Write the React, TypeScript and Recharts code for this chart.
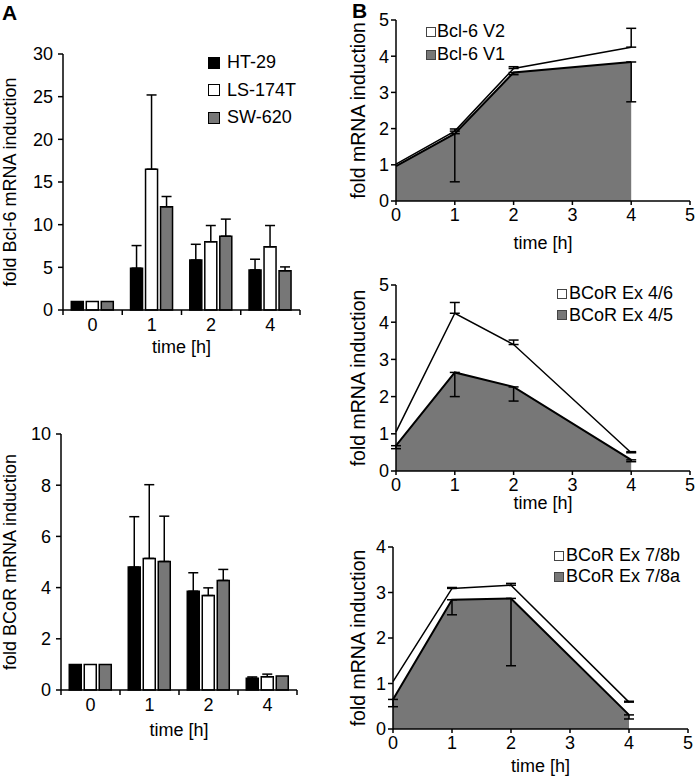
import React from 'react';
import { BarChart, Bar, XAxis, YAxis, ErrorBar, Legend, ComposedChart, Area, Line, Label } from 'recharts';

const FONT = '"Liberation Sans", Arial, Helvetica, sans-serif';
const GRAY = '#777777';

// ---------- Panel A data ----------
const timeCategories = ['0', '1', '2', '4'];
const cellLines = ['HT-29', 'LS-174T', 'SW-620'];
const cellColors = ['#000000', '#ffffff', GRAY];

const bcl6HT29 = [1, 4.9, 5.85, 4.7];
const bcl6LS174T = [1, 16.5, 8.0, 7.4];
const bcl6SW620 = [1, 12.1, 8.65, 4.6];
const bcl6HT29Err = [null, 2.65, 1.85, 1.25];
const bcl6LS174TErr = [null, 8.7, 1.9, 2.5];
const bcl6SW620Err = [null, 1.2, 2.0, 0.45];
const bcl6Ticks = [0, 5, 10, 15, 20, 25, 30];

const bcorHT29 = [1, 4.8, 3.86, 0.46];
const bcorLS174T = [1, 5.14, 3.69, 0.52];
const bcorSW620 = [1, 5.02, 4.28, 0.55];
const bcorHT29Err = [null, 1.97, 0.72, 0.05];
const bcorLS174TErr = [null, 2.88, 0.3, 0.1];
const bcorSW620Err = [null, 1.77, 0.43, null];
const bcorTicks = [0, 2, 4, 6, 8, 10];

// ---------- Panel B data ----------
const hours = [0, 1, 2, 4];
const hourTicks = [0, 1, 2, 3, 4, 5];

const bcl6V2 = [1.02, 1.93, 3.66, 4.25];
const bcl6V1 = [0.96, 1.86, 3.55, 3.84];
const bcl6V2ErrUp = [null, 0.06, 0.05, 0.52];
const bcl6V1ErrDown = [null, 1.33, 0.06, 1.1];
const bcl6Names = ['Bcl-6 V2', 'Bcl-6 V1'];

const ex46 = [1.05, 4.24, 3.4, 0.49];
const ex45 = [0.68, 2.65, 2.26, 0.3];
const ex46ErrUp = [null, 0.29, 0.12, 0.03];
const ex45ErrDown = [0.08, 0.65, 0.38, 0.05];
const ex4Names = ['BCoR Ex 4/6', 'BCoR Ex 4/5'];

const ex78b = [1.04, 3.09, 3.16, 0.59];
const ex78a = [0.65, 2.84, 2.87, 0.31];
const ex78bErrUp = [null, 0.02, 0.04, 0.02];
const ex78aErrDown = [0.16, 0.33, 1.48, 0.09];
const ex78Names = ['BCoR Ex 7/8b', 'BCoR Ex 7/8a'];

const up = (e: number | null) => (e == null ? null : [0, e]);
const down = (e: number | null) => (e == null ? null : [e, 0]);

const bcl6Rows = timeCategories.map((t, i) => ({
  t,
  a: bcl6HT29[i], b: bcl6LS174T[i], c: bcl6SW620[i],
  aErr: up(bcl6HT29Err[i]), bErr: up(bcl6LS174TErr[i]), cErr: up(bcl6SW620Err[i]),
}));
const bcorRows = timeCategories.map((t, i) => ({
  t,
  a: bcorHT29[i], b: bcorLS174T[i], c: bcorSW620[i],
  aErr: up(bcorHT29Err[i]), bErr: up(bcorLS174TErr[i]), cErr: up(bcorSW620Err[i]),
}));

const makeLineRows = (hi: number[], lo: number[], hiErr: (number | null)[], loErr: (number | null)[]) =>
  hours.map((t, i) => ({ t, hi: hi[i], lo: lo[i], hiErr: up(hiErr[i]), loErr: down(loErr[i]) }));

const bcl6VRows = makeLineRows(bcl6V2, bcl6V1, bcl6V2ErrUp, bcl6V1ErrDown);
const ex4Rows = makeLineRows(ex46, ex45, ex46ErrUp, ex45ErrDown);
const ex78Rows = makeLineRows(ex78b, ex78a, ex78bErrUp, ex78aErrDown);

const axisStroke = { stroke: '#000', strokeWidth: 1.5 };
const tickStyle = { fill: '#000', fontSize: 18, fontFamily: FONT };

const makeCatTick = (band: number) => (props: any) => {
  const { x, y, payload } = props;
  const y0 = y - 8;
  const last = payload.value === timeCategories[timeCategories.length - 1];
  return (
    <g>
      <line x1={x - band / 2} x2={x - band / 2} y1={y0} y2={y0 + 5} stroke="#000" strokeWidth={1.5} />
      {last && <line x1={x + band / 2} x2={x + band / 2} y1={y0} y2={y0 + 5} stroke="#000" strokeWidth={1.5} />}
      <text x={x} y={y} dy="0.71em" textAnchor="middle" fontSize={18} fontFamily={FONT} fill="#000">
        {payload.value}
      </text>
    </g>
  );
};

const BarLegend = () => (
  <div style={{ fontFamily: FONT, fontSize: 18, color: '#000' }}>
    {cellLines.map((name, i) => (
      <div key={name} style={{ display: 'flex', alignItems: 'center', height: 27.5 }}>
        <span
          style={{
            display: 'inline-block', width: 12, height: 12, boxSizing: 'border-box',
            border: '1.5px solid #000', background: cellColors[i], marginRight: 7,
          }}
        />
        <span>{name}</span>
      </div>
    ))}
  </div>
);

const makeAreaLegend = (names: string[], rowH: number, gap: number) => () => (
  <div style={{ fontFamily: FONT, fontSize: 18, color: '#000' }}>
    {names.map((name, i) => (
      <div key={name} style={{ display: 'flex', alignItems: 'center', height: rowH, whiteSpace: 'nowrap' }}>
        <span
          style={{
            display: 'inline-block', width: 10, height: 10, boxSizing: 'border-box',
            border: '1px solid #444', background: i === 0 ? '#fff' : GRAY, marginRight: gap,
          }}
        />
        <span>{name}</span>
      </div>
    ))}
  </div>
);

type BarPanelProps = {
  top: number; rows: any[]; ticks: number[]; ylabel: string; yW: number; right: number;
  axisH: number; height: number; labelOffset: number; legend?: boolean;
};

const BarPanel = ({ top, rows, ticks, ylabel, yW, right, axisH, height, labelOffset, legend }: BarPanelProps) => {
  const width = 320;
  const band = (width - yW - right) / timeCategories.length;
  return (
    <div style={{ position: 'absolute', left: 0, top }}>
      <BarChart width={width} height={height} data={rows} margin={{ top: 54, right, bottom: 0, left: 0 }}
        barCategoryGap="14%" barGap={3}>
        <XAxis dataKey="t" tickLine={false} axisLine={axisStroke} tickSize={5} tickMargin={3}
          height={axisH} tick={makeCatTick(band)} interval={0}>
          <Label value="time [h]" position="insideBottom" offset={labelOffset}
            style={{ fontSize: 18, fill: '#000', fontFamily: FONT }} />
        </XAxis>
        <YAxis width={yW} domain={[0, ticks[ticks.length - 1]]} ticks={ticks} interval={0}
          tick={tickStyle} tickLine={axisStroke} axisLine={axisStroke} tickSize={5} tickMargin={5}>
          <Label value={ylabel} angle={-90} position="insideLeft" offset={10}
            style={{ textAnchor: 'middle', fontSize: 18, fill: '#000', fontFamily: FONT }} />
        </YAxis>
        {legend && (
          <Legend layout="vertical" align="center" verticalAlign="middle" content={BarLegend}
            wrapperStyle={{ left: 208, top: 49, width: 'auto', height: 'auto' }} />
        )}
        <Bar dataKey="a" name={cellLines[0]} fill={cellColors[0]} stroke="#000" strokeWidth={1.5} isAnimationActive={false}>
          <ErrorBar dataKey="aErr" width={5} stroke="#000" strokeWidth={1.5} />
        </Bar>
        <Bar dataKey="b" name={cellLines[1]} fill={cellColors[1]} stroke="#000" strokeWidth={1.5} isAnimationActive={false}>
          <ErrorBar dataKey="bErr" width={5} stroke="#000" strokeWidth={1.5} />
        </Bar>
        <Bar dataKey="c" name={cellLines[2]} fill={cellColors[2]} stroke="#000" strokeWidth={1.5} isAnimationActive={false}>
          <ErrorBar dataKey="cErr" width={5} stroke="#000" strokeWidth={1.5} />
        </Bar>
      </BarChart>
    </div>
  );
};

type AreaPanelProps = {
  top: number; left: number; width: number; height: number; marginTop: number; yW: number; right: number;
  axisH: number; rows: any[]; yMax: number; names: string[]; legendLeft: number; legendTop: number;
  legendRowH: number; legendGap: number; labelOffset: number;
};

const AreaPanel = (p: AreaPanelProps) => {
  const yTicks = hourTicks.filter((v) => v <= p.yMax);
  return (
    <div style={{ position: 'absolute', left: p.left, top: p.top }}>
      <ComposedChart width={p.width} height={p.height} data={p.rows}
        margin={{ top: p.marginTop, right: p.right, bottom: 0, left: 0 }}>
        <XAxis dataKey="t" type="number" domain={[0, 5]} ticks={hourTicks} interval={0} height={p.axisH}
          tick={tickStyle} tickLine={axisStroke} axisLine={axisStroke} tickSize={4} tickMargin={3}>
          <Label value="time [h]" position="insideBottom" offset={p.labelOffset}
            style={{ fontSize: 18, fill: '#000', fontFamily: FONT }} />
        </XAxis>
        <YAxis width={p.yW} domain={[0, p.yMax]} ticks={yTicks} interval={0}
          tick={tickStyle} tickLine={axisStroke} axisLine={axisStroke} tickSize={5} tickMargin={2}>
          <Label value="fold mRNA induction" angle={-90} position="insideLeft" offset={16}
            style={{ textAnchor: 'middle', fontSize: 19.5, fill: '#000', fontFamily: FONT }} />
        </YAxis>
        <Legend layout="vertical" align="center" verticalAlign="middle"
          content={makeAreaLegend(p.names, p.legendRowH, p.legendGap)}
          wrapperStyle={{ left: p.legendLeft, top: p.legendTop, width: 'auto', height: 'auto' }} />
        <Area type="linear" dataKey="hi" name={p.names[0]} stroke="#000" strokeWidth={1.5} fill="#ffffff"
          fillOpacity={1} dot={false} activeDot={false} isAnimationActive={false} />
        <Area type="linear" dataKey="lo" name={p.names[1]} stroke="#000" strokeWidth={2} fill={GRAY}
          fillOpacity={1} dot={false} activeDot={false} isAnimationActive={false} />
        <Line type="linear" dataKey="hi" stroke="none" dot={false} activeDot={false} legendType="none"
          isAnimationActive={false}>
          <ErrorBar dataKey="hiErr" width={5} stroke="#000" strokeWidth={1.5} direction="y" />
        </Line>
        <Line type="linear" dataKey="lo" stroke="none" dot={false} activeDot={false} legendType="none"
          isAnimationActive={false}>
          <ErrorBar dataKey="loErr" width={5} stroke="#000" strokeWidth={1.5} direction="y" />
        </Line>
      </ComposedChart>
    </div>
  );
}

export default function App() {
  return (
    <div style={{ position: 'absolute', left: 0, top: 0, width: 695, height: 778, background: '#fff', overflow: 'hidden' }}>
      <div style={{ position: 'absolute', left: 2, top: 2, fontFamily: FONT, fontWeight: 'bold', fontSize: 21, lineHeight: '21px' }}>A</div>
      <div style={{ position: 'absolute', left: 352, top: 0, fontFamily: FONT, fontWeight: 'bold', fontSize: 21, lineHeight: '21px' }}>B</div>
      <BarPanel top={0} rows={bcl6Rows} ticks={bcl6Ticks} ylabel="fold Bcl-6 mRNA induction" yW={63} right={20}
        axisH={50} height={360} labelOffset={7} legend />
      <BarPanel top={380} rows={bcorRows} ticks={bcorTicks} ylabel="fold BCoR mRNA induction" yW={61} right={23}
        axisH={52} height={362} labelOffset={6} />
      <AreaPanel top={0} left={342} width={353} height={255} marginTop={20} yW={54} right={5} axisH={54}
        rows={bcl6VRows} yMax={5} names={bcl6Names} legendLeft={84} legendTop={20}
        legendRowH={23} legendGap={1} labelOffset={6} />
      <AreaPanel top={260} left={342} width={353} height={260} marginTop={25} yW={54} right={5} axisH={49}
        rows={ex4Rows} yMax={5} names={ex4Names} legendLeft={215} legendTop={23}
        legendRowH={21.5} legendGap={2} labelOffset={11} />
      <AreaPanel top={520} left={342} width={353} height={258} marginTop={27} yW={51} right={7} axisH={49}
        rows={ex78Rows} yMax={4} names={ex78Names} legendLeft={212} legendTop={25}
        legendRowH={21} legendGap={2} labelOffset={6} />
    </div>
  );
}
